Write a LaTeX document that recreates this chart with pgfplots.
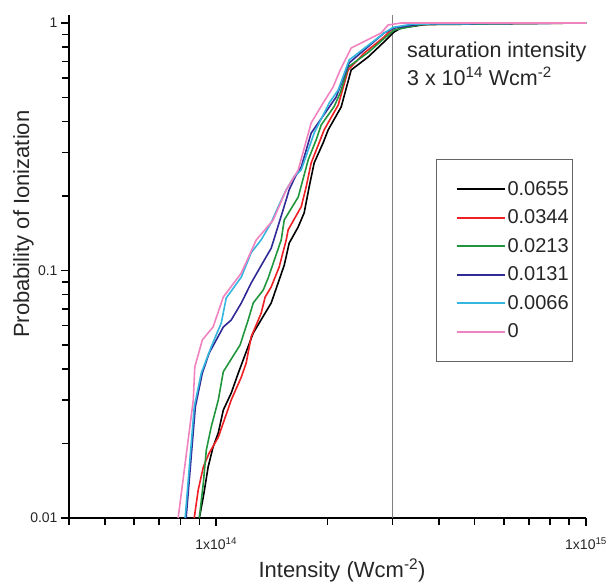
\documentclass[border=0pt]{standalone}
\usepackage{pgfplots}
\pgfplotsset{compat=1.18}
\usepackage{fontspec}
\setmainfont{Liberation Sans}

\definecolor{cRed}{RGB}{238,32,36}
\definecolor{cGreen}{RGB}{34,150,60}
\definecolor{cNavy}{RGB}{48,42,150}
\definecolor{cCyan}{RGB}{52,182,222}
\definecolor{cPink}{RGB}{240,130,192}
\definecolor{cFrame}{RGB}{100,100,100}

\begin{document}
\begin{tikzpicture}
\begin{axis}[
  scale only axis, width=517pt, height=503pt,
  xmode=log, ymode=log,
  xmin=4e13, xmax=1e15, ymin=0.01, ymax=1.077,
  axis lines=left,
  axis line style={line width=2pt, -},
  tick align=outside,
  major tick length=8pt, minor tick length=7pt,
  every tick/.style={line width=1.5pt, black},
  xtick={1e14,1e15},
  xticklabels={1x10\textsuperscript{14},1x10\textsuperscript{15}},
  minor xtick={4e13,5e13,6e13,7e13,8e13,9e13,2e14,3e14,4e14,5e14,6e14,7e14,8e14,9e14},
  ytick={0.01,0.1,1},
  yticklabels={0.01,0.1,1},
  minor ytick={0.02,0.03,0.04,0.05,0.06,0.07,0.08,0.09,0.2,0.3,0.4,0.5,0.6,0.7,0.8,0.9},
  tick label style={font=\fontsize{14}{16}\selectfont, text=black!85},
  xticklabel style={yshift=-8pt},
  xlabel={Intensity (Wcm\textsuperscript{-2})},
  ylabel={Probability of Ionization},
  xlabel style={at={([yshift=-59pt]axis description cs:0.528,0)}, anchor=base, font=\fontsize{22}{26}\selectfont, color=black!85},
  ylabel style={at={([xshift=-40pt]axis description cs:0,0.584)}, anchor=base, rotate=0, font=\fontsize{22}{26}\selectfont, color=black!85},
  legend style={at={(axis description cs:0.71,0.714)}, anchor=north west,
    draw=cFrame, line width=1.2pt, inner xsep=2pt, inner ysep=20pt,
    font=\fontsize{20}{24}\selectfont, text=black!85, row sep=9pt, /tikz/column sep=0pt},
  legend cell align=left,
  legend image code/.code={\path (0pt,0pt); \draw[#1, line width=2pt] (17pt,0pt) -- (65pt,0pt);},
  every axis plot/.append style={line width=1.6pt},
]
\addplot[gray, line width=1.5pt, forget plot] coordinates {(3e14,0.01) (3e14,1.077)};

\addplot[black] coordinates {(9.00e13,0.0100)(9.23e13,0.0122)(9.51e13,0.0161)(9.81e13,0.0194)(1.013e14,0.0221)(1.045e14,0.0273)(1.098e14,0.0320)(1.147e14,0.0385)(1.259e14,0.0559)(1.408e14,0.0739)(1.527e14,0.105)(1.575e14,0.129)(1.666e14,0.150)(1.729e14,0.171)(1.784e14,0.218)(1.840e14,0.272)(1.946e14,0.328)(2.008e14,0.370)(2.177e14,0.458)(2.317e14,0.646)(2.575e14,0.729)(2.880e14,0.854)(3.027e14,0.920)(3.162e14,0.955)(3.58e14,0.98)(4.0e14,1.0)(1e15,1.0)};
\addlegendentry{0.0655}

\addplot[cRed] coordinates {(8.72e13,0.0100)(8.94e13,0.0130)(9.23e13,0.0161)(9.57e13,0.0183)(1.013e14,0.0212)(1.098e14,0.0300)(1.169e14,0.0371)(1.205e14,0.0423)(1.243e14,0.0539)(1.323e14,0.0673)(1.356e14,0.0781)(1.408e14,0.0858)(1.480e14,0.1033)(1.546e14,0.1328)(1.565e14,0.146)(1.698e14,0.181)(1.751e14,0.218)(1.806e14,0.272)(1.898e14,0.328)(1.958e14,0.370)(2.137e14,0.466)(2.274e14,0.646)(2.512e14,0.756)(2.845e14,0.878)(3.008e14,0.955)(3.58e14,0.985)(1e15,1.0)};
\addlegendentry{0.0344}

\addplot[cGreen] coordinates {(9.00e13,0.0100)(9.23e13,0.0139)(9.40e13,0.0188)(9.69e13,0.0233)(1.013e14,0.0300)(1.045e14,0.039)(1.16e14,0.050)(1.220e14,0.0631)(1.259e14,0.0739)(1.340e14,0.0834)(1.382e14,0.0933)(1.435e14,0.110)(1.499e14,0.133)(1.527e14,0.160)(1.666e14,0.198)(1.773e14,0.280)(1.863e14,0.337)(1.922e14,0.387)(2.084e14,0.46)(2.163e14,0.521)(2.274e14,0.664)(2.575e14,0.76)(2.880e14,0.88)(3.027e14,0.937)(3.58e14,0.985)(1e15,1.0)};
\addlegendentry{0.0213}

\addplot[cNavy] coordinates {(8.29e13,0.0100)(8.78e13,0.0281)(9.17e13,0.0385)(9.57e13,0.0464)(1.045e14,0.0591)(1.098e14,0.0631)(1.169e14,0.0739)(1.243e14,0.0890)(1.348e14,0.110)(1.408e14,0.123)(1.517e14,0.176)(1.575e14,0.212)(1.635e14,0.239)(1.698e14,0.262)(1.806e14,0.359)(2.110e14,0.502)(2.288e14,0.69)(2.845e14,0.911)(3.03e14,0.955)(3.58e14,0.99)(1e15,1.0)};
\addlegendentry{0.0131}

\addplot[cCyan] coordinates {(8.24e13,0.0100)(8.72e13,0.0281)(9.11e13,0.0385)(9.69e13,0.0491)(1.032e14,0.0614)(1.064e14,0.0774)(1.169e14,0.0941)(1.243e14,0.118)(1.323e14,0.133)(1.408e14,0.156)(1.471e14,0.181)(1.546e14,0.212)(1.625e14,0.240)(1.698e14,0.255)(1.840e14,0.359)(2.020e14,0.475)(2.137e14,0.536)(2.288e14,0.709)(2.845e14,0.911)(3.008e14,0.96)(3.4e14,0.99)(1e15,1.0)};
\addlegendentry{0.0066}

\addplot[cPink] coordinates {(7.89e13,0.0100)(8.67e13,0.0300)(8.75e13,0.0407)(9.17e13,0.0524)(9.81e13,0.0592)(1.045e14,0.0781)(1.169e14,0.0977)(1.283e14,0.1328)(1.426e14,0.160)(1.546e14,0.2115)(1.666e14,0.2547)(1.806e14,0.3944)(1.946e14,0.4752)(2.071e14,0.5512)(2.163e14,0.6457)(2.317e14,0.7925)(2.792e14,0.9112)(2.916e14,0.9815)(3.162e14,1.0)(1e15,1.0)};
\addlegendentry{0}

\node[anchor=base west, font=\fontsize{21.5}{25}\selectfont, text=black!85] at (axis description cs:0.647,0.9165) {saturation intensity};
\node[anchor=base west, font=\fontsize{21.5}{25}\selectfont, text=black!85] at (axis description cs:0.647,0.8608) {3 x 10\textsuperscript{14} Wcm\textsuperscript{-2}};
\end{axis}
\pgfresetboundingbox
\path[use as bounding box] ([shift={(-69pt,-64pt)}]current axis.south west) rectangle ++(616pt,582pt);
\end{tikzpicture}
\end{document}
